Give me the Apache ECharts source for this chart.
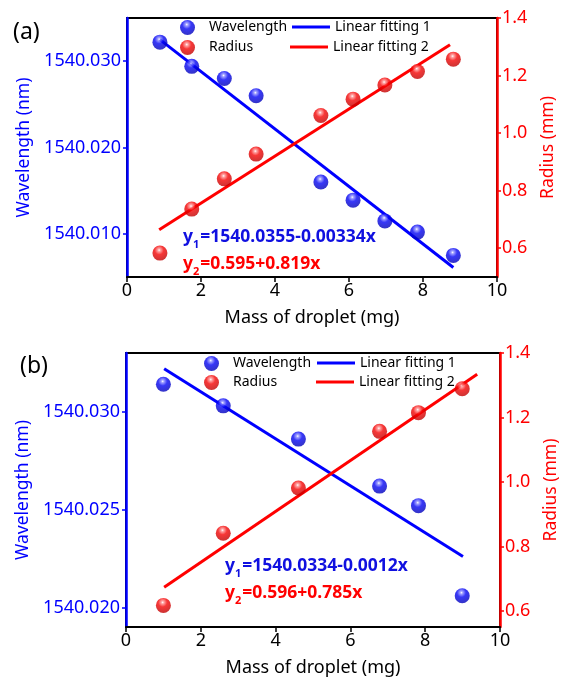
<!DOCTYPE html>
<html>
<head>
<meta charset="utf-8">
<script src="https://cdn.jsdelivr.net/npm/echarts@6/dist/echarts.min.js"></script>
<style>
  html, body { margin: 0; padding: 0; background: #fff; }
  #demo { width: 568px; height: 684px; }
</style>
</head>
<body>
<div id="demo"></div>
<script>
// 数据 (a)
var massA = [0.89, 1.75, 2.63, 3.49, 5.24, 6.11, 6.97, 7.85, 8.82];
var wavelengthA = [1540.0322, 1540.0294, 1540.0280, 1540.0260, 1540.0160, 1540.0139, 1540.0115, 1540.0102, 1540.0075];
var radiusA = [0.583, 0.736, 0.841, 0.927, 1.061, 1.118, 1.167, 1.214, 1.257];
var fitMassA1 = [0.89, 8.82];
var fitWaveA = [1540.0325, 1540.0061];
var fitMassA2 = [0.87, 8.73];
var fitRadiusA = [0.664, 1.307];

// 数据 (b)
var massB = [1.00, 2.60, 4.61, 6.78, 7.82, 8.99];
var wavelengthB = [1540.0314, 1540.0303, 1540.0286, 1540.0262, 1540.0252, 1540.0206];
var radiusB = [0.617, 0.841, 0.981, 1.157, 1.215, 1.289];
var fitMassB1 = [1.02, 9.01];
var fitWaveB = [1540.0322, 1540.0226];
var fitMassB2 = [1.02, 9.39];
var fitRadiusB = [0.673, 1.334];

// 刻度
var waveTicksA = [1540.010, 1540.020, 1540.030];
var waveTicksB = [1540.020, 1540.025, 1540.030];
var radiusTicks = [0.6, 0.8, 1.0, 1.2, 1.4];

var FONT = 'Noto Sans';
var BLUE = '#0000ff';
var RED = '#ff0000';

function pairs(xs, ys) {
    return xs.map(function (x, i) { return [x, ys[i]]; });
}

function ball(c1, c2, c3) {
    return {
        type: 'radial', x: 0.45, y: 0.3, r: 0.75,
        colorStops: [
            { offset: 0, color: '#ffffff' },
            { offset: 0.12, color: c1 },
            { offset: 0.4, color: c2 },
            { offset: 1, color: c3 }
        ]
    };
}
var blueBall = ball('#8c8cff', '#0505f5', '#0000b0');
var redBall = ball('#ff9090', '#f50505', '#b80000');

function xAxisOf(grid) {
    return {
        gridIndex: grid, type: 'value', min: 0, max: 10, interval: 2,
        name: 'Mass of droplet (mg)', nameLocation: 'middle', nameGap: 32,
        nameTextStyle: { color: '#000', fontSize: 18, fontFamily: FONT },
        axisLine: { show: true, lineStyle: { color: '#000', width: 2 } },
        axisTick: { show: true, length: 5, lineStyle: { color: '#000', width: 1.5 } },
        axisLabel: { color: '#000', fontSize: 18, fontFamily: FONT, margin: 5 },
        splitLine: { show: false }
    };
}

function waveAxis(grid, min, max, ticks) {
    return {
        gridIndex: grid, type: 'value', position: 'left', min: min, max: max,
        name: 'Wavelength (nm)', nameLocation: 'middle', nameGap: 90,
        nameTextStyle: { color: BLUE, fontSize: 17.5, fontFamily: FONT },
        axisLine: { show: true, lineStyle: { color: BLUE, width: 2.5 } },
        axisTick: { show: true, length: 4, customValues: ticks, lineStyle: { color: BLUE, width: 1.5 } },
        axisLabel: {
            color: BLUE, fontSize: 18, fontFamily: FONT, margin: 6, customValues: ticks,
            formatter: function (v) { return v.toFixed(3); }
        },
        splitLine: { show: false }
    };
}

function radiusAxis(grid, min, max) {
    return {
        gridIndex: grid, type: 'value', position: 'right', min: min, max: max,
        name: 'Radius (mm)', nameLocation: 'middle', nameGap: 42,
        nameTextStyle: { color: RED, fontSize: 17.5, fontFamily: FONT },
        axisLine: { show: true, lineStyle: { color: RED, width: 2.5 } },
        axisTick: { show: true, length: 4, customValues: radiusTicks, lineStyle: { color: RED, width: 1.5 } },
        axisLabel: {
            color: RED, fontSize: 18, fontFamily: FONT, margin: 5, customValues: radiusTicks,
            formatter: function (v) { return v.toFixed(1); }
        },
        splitLine: { show: false }
    };
}

function dots(name, grid, yIdx, data, color) {
    return {
        name: name, type: 'scatter', xAxisIndex: grid, yAxisIndex: yIdx,
        data: data, symbolSize: 15, z: 5,
        itemStyle: { color: color }
    };
}

function fit(name, grid, yIdx, data, color) {
    return {
        name: name, type: 'line', xAxisIndex: grid, yAxisIndex: yIdx,
        data: data, showSymbol: false, symbol: 'none', z: 3,
        lineStyle: { color: color, width: 3 },
        itemStyle: { color: color }
    };
}

function leg(name, left, top, isLine) {
    return {
        data: [name], left: left, top: top, padding: 0,
        icon: isLine ? 'rect' : 'circle',
        itemWidth: isLine ? 38 : 15, itemHeight: isLine ? 3 : 15,
        textStyle: { color: '#000', fontSize: 14, fontFamily: FONT, padding: isLine ? 0 : [0, 0, 0, 9] },
        selectedMode: false
    };
}

function eq(left, top, txt1, txt2) {
    return {
        type: 'text', left: left, top: top, z: 10,
        style: {
            text: '{b|y}{bs|1}{b|=' + txt1 + '}\n{r|y}{rs|2}{r|=' + txt2 + '}',
            rich: {
                b: { fill: '#1010e0', fontSize: 17.5, fontWeight: 'bold', fontFamily: FONT, lineHeight: 27 },
                bs: { fill: '#1010e0', fontSize: 11, fontWeight: 'bold', fontFamily: FONT, lineHeight: 27, verticalAlign: 'bottom', padding: [0, 1, 0, 0] },
                r: { fill: RED, fontSize: 17.5, fontWeight: 'bold', fontFamily: FONT, lineHeight: 27 },
                rs: { fill: RED, fontSize: 11, fontWeight: 'bold', fontFamily: FONT, lineHeight: 27, verticalAlign: 'bottom', padding: [0, 1, 0, 0] }
            }
        }
    };
}

var myChart = echarts.init(document.getElementById('demo'));

var option = {
    backgroundColor: '#fff',
    animation: false,
    grid: [
        { left: 127, right: 71, top: 18, height: 259, show: true, borderColor: '#000', borderWidth: 2, outerBoundsMode: 'none' },
        { left: 126, right: 68, top: 353, height: 274, show: true, borderColor: '#000', borderWidth: 2, outerBoundsMode: 'none' }
    ],
    xAxis: [xAxisOf(0), xAxisOf(1)],
    yAxis: [
        waveAxis(0, 1540.005, 1540.035, waveTicksA),
        radiusAxis(0, 0.5, 1.4),
        waveAxis(1, 1540.019, 1540.033, waveTicksB),
        radiusAxis(1, 0.55, 1.4)
    ],
    legend: [
        leg('Wavelength', 180, 20, false),
        leg('Radius', 180, 40, false),
        leg('Linear fitting 1', 292, 20, true),
        leg('Linear fitting 2', 290, 40, true),
        leg('Wavelength', 204, 356, false),
        leg('Radius', 204, 375, false),
        leg('Linear fitting 1', 317, 356, true),
        leg('Linear fitting 2', 316, 375, true)
    ],
    series: [
        fit('Linear fitting 1', 0, 0, pairs(fitMassA1, fitWaveA), BLUE),
        fit('Linear fitting 2', 0, 1, pairs(fitMassA2, fitRadiusA), RED),
        dots('Wavelength', 0, 0, pairs(massA, wavelengthA), blueBall),
        dots('Radius', 0, 1, pairs(massA, radiusA), redBall),
        fit('Linear fitting 1', 1, 2, pairs(fitMassB1, fitWaveB), BLUE),
        fit('Linear fitting 2', 1, 3, pairs(fitMassB2, fitRadiusB), RED),
        dots('Wavelength', 1, 2, pairs(massB, wavelengthB), blueBall),
        dots('Radius', 1, 3, pairs(massB, radiusB), redBall)
    ],
    graphic: [
        { type: 'text', left: 13, top: 21, style: { text: '(a)', fill: '#000', fontSize: 23, fontFamily: FONT } },
        { type: 'text', left: 20, top: 355, style: { text: '(b)', fill: '#000', fontSize: 23, fontFamily: FONT } },
        eq(183, 228, '1540.0355-0.00334x', '0.595+0.819x'),
        eq(225, 557, '1540.0334-0.0012x', '0.596+0.785x')
    ]
};

myChart.setOption(option);
</script>
</body>
</html>
